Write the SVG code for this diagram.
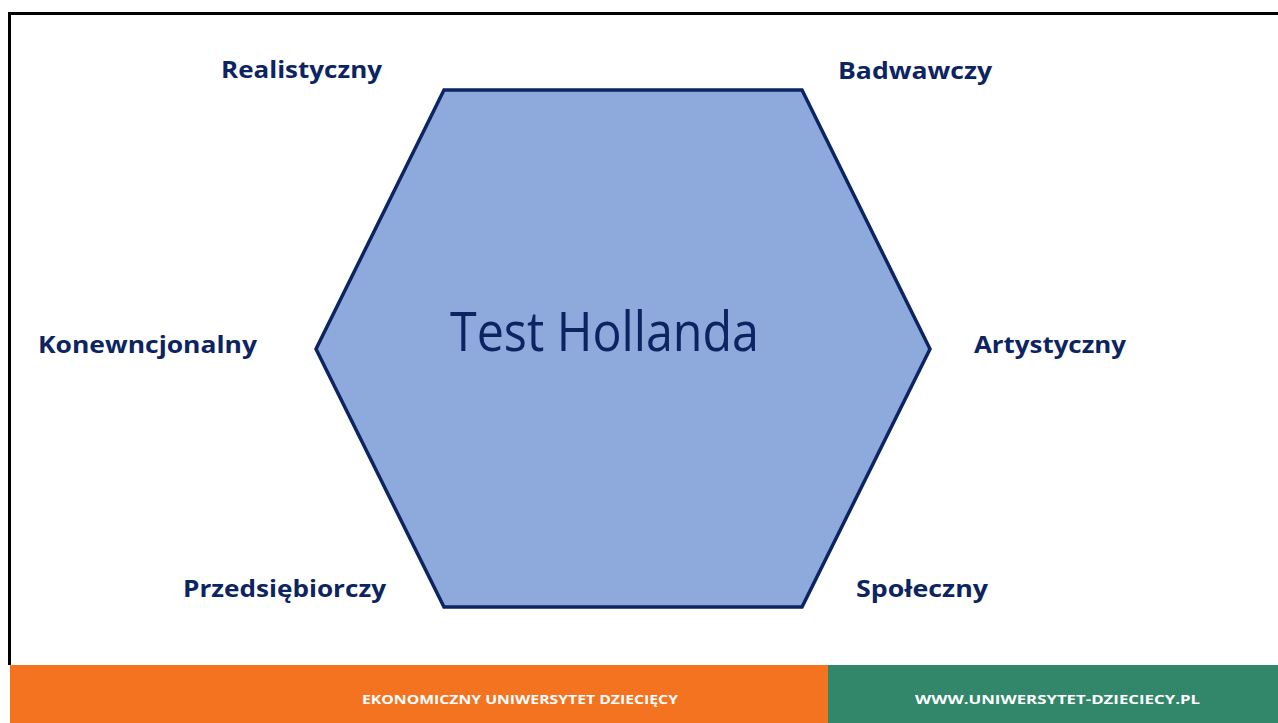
<svg xmlns="http://www.w3.org/2000/svg" width="1278" height="723" viewBox="0 0 1278 723">
<style>
.lbl{font-family:"Open Sans","Liberation Sans",sans-serif;font-weight:700;font-size:24px;fill:#0C2461}
.foot{font-family:"Open Sans","Liberation Sans",sans-serif;font-weight:700;font-size:13px;fill:#ffffff}
</style>
<rect x="0" y="0" width="1278" height="723" fill="#ffffff"/>
<path d="M9.5 665 V13.5 H1290" fill="none" stroke="#000" stroke-width="3"/>
<g id="hexagon">
<polygon points="444,90 802,90 930,349 802,607 444,607 316,349" fill="#8EAADC" stroke="#0C2461" stroke-width="3.5" stroke-linejoin="miter"/>
<text x="450" y="351" textLength="309" lengthAdjust="spacingAndGlyphs" style="font-family:'Open Sans','Liberation Sans',sans-serif;font-size:54px;fill:#0C2461">Test Hollanda</text>
</g>
<g id="realistyczny"><text class="lbl" x="221" y="78" textLength="161" lengthAdjust="spacingAndGlyphs">Realistyczny</text></g>
<g id="badwawczy"><text class="lbl" x="838" y="79" textLength="154" lengthAdjust="spacingAndGlyphs">Badwawczy</text></g>
<g id="konwencjonalny"><text class="lbl" x="38" y="353" textLength="219" lengthAdjust="spacingAndGlyphs">Konewncjonalny</text></g>
<g id="artystyczny"><text class="lbl" x="974" y="353" textLength="152" lengthAdjust="spacingAndGlyphs">Artystyczny</text></g>
<g id="przedsiebiorczy"><text class="lbl" x="183" y="597" textLength="203" lengthAdjust="spacingAndGlyphs">Przedsiębiorczy</text></g>
<g id="spoleczny"><text class="lbl" x="856" y="597" textLength="132" lengthAdjust="spacingAndGlyphs">Społeczny</text></g>
<g id="connectors"></g>
<g id="footer">
<rect x="10" y="665" width="818" height="58" fill="#F47321"/>
<rect x="828" y="665" width="450" height="58" fill="#32876A"/>
<text class="foot" x="362" y="704" textLength="316" lengthAdjust="spacingAndGlyphs">EKONOMICZNY UNIWERSYTET DZIECIĘCY</text>
<text class="foot" x="915" y="704" textLength="285" lengthAdjust="spacingAndGlyphs">WWW.UNIWERSYTET-DZIECIECY.PL</text>
</g>
</svg>
